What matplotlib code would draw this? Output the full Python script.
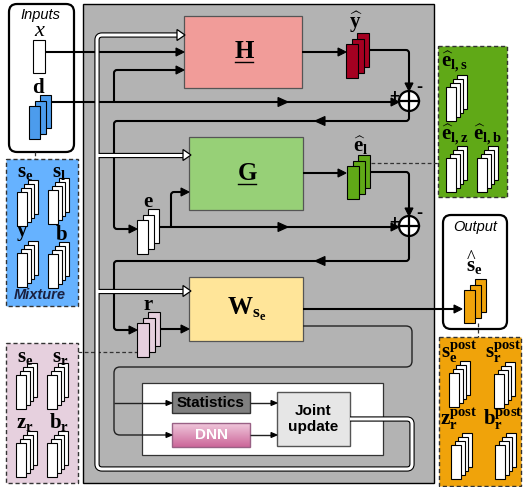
import numpy as np
import matplotlib
matplotlib.use('Agg')
import matplotlib.pyplot as plt
from matplotlib.patches import Rectangle, FancyBboxPatch, Circle, Polygon, PathPatch
from matplotlib.path import Path
from matplotlib.colors import LinearSegmentedColormap

plt.rcParams['mathtext.fontset'] = 'custom'
plt.rcParams['mathtext.rm'] = 'Liberation Serif'
plt.rcParams['mathtext.bf'] = 'Liberation Serif:bold'
plt.rcParams['mathtext.it'] = 'Liberation Serif:italic'
plt.rcParams['font.family'] = ['Liberation Sans', 'DejaVu Sans']

# main processing blocks: label, (left, top, right, bottom), colour
blocks = [
    (r'$\mathbf{H}$', (184, 16, 302, 88), '#f19c99'),
    (r'$\mathbf{G}$', (189, 137, 303, 210), '#97d077'),
    (r'$\mathbf{W}_{\mathbf{s}_\mathbf{e}}$', (189, 277, 303, 341), '#ffe599'),
]
underlined = [True, True, False]

# feature stacks in the main flow: label, front rect (x, y, w, h), colour, label pos
main_stacks = [
    (r'$\mathbf{d}$', (29, 106, 11, 33), '#4c9ced', (39, 93)),
    (r'$\widehat{\mathbf{y}}$', (346, 44, 12, 34), '#a50021', (356, 28)),
    (r'$\mathbf{e}$', (137, 220, 11, 34), '#ffffff', (148, 207)),
    (r'$\widehat{\mathbf{e}}_\mathbf{l}$', (347, 166, 12, 33), '#60a917', (361, 152)),
    (r'$\mathbf{r}$', (137, 323, 12, 34), '#e6d0de', (148, 310)),
    (r'$\widehat{\mathbf{s}}_\mathbf{e}$', (464, 290, 11, 33), '#f0a30a', (474, 272)),
]

# side legend boxes: (left, top, right, bottom), colour, [(label, label pos, ha, stack front)]
side_boxes = [
    ((6, 159, 78, 306), '#66b2ff', [
        (r'$\mathbf{s}_\mathbf{e}$', (25, 177), 'center', (17, 192)),
        (r'$\mathbf{s}_\mathbf{l}$', (59, 177), 'center', (48, 190)),
        (r'$\mathbf{y}$', (22, 236), 'center', (17, 253)),
        (r'$\mathbf{b}$', (61, 240), 'center', (48, 254)),
    ]),
    ((438, 46, 507, 197), '#60a917', [
        (r'$\widehat{\mathbf{e}}_{\mathbf{l,s}}$', (441, 67), 'left', (446, 87)),
        (r'$\widehat{\mathbf{e}}_{\mathbf{l,z}}$', (441, 140), 'left', (446, 158)),
        (r'$\widehat{\mathbf{e}}_{\mathbf{l,b}}$', (473, 140), 'left', (477, 158)),
    ]),
    ((6, 343, 78, 483), '#e6d0de', [
        (r'$\mathbf{s}_\mathbf{e}$', (25, 362), 'center', (16, 375)),
        (r'$\mathbf{s}_\mathbf{r}$', (60, 362), 'center', (47, 375)),
        (r'$\mathbf{z}_\mathbf{r}$', (25, 428), 'center', (16, 443)),
        (r'$\mathbf{b}_\mathbf{r}$', (59, 428), 'center', (47, 443)),
    ]),
    ((439, 337, 521, 486), '#f0a30a', [
        (r'$\mathbf{s}_\mathbf{e}^\mathbf{post}$', (441, 358), 'left', (449, 373)),
        (r'$\mathbf{s}_\mathbf{r}^\mathbf{post}$', (485, 358), 'left', (494, 374)),
        (r'$\mathbf{z}_\mathbf{r}^\mathbf{post}$', (440, 425), 'left', (451, 445)),
        (r'$\mathbf{b}_\mathbf{r}^\mathbf{post}$', (483, 425), 'left', (495, 445)),
    ]),
]

sum_nodes = [(409, 101), (409, 226)]

fig = plt.figure(figsize=(5.23, 4.87), dpi=100)
ax = fig.add_axes([0, 0, 1, 1])
ax.set_xlim(0, 523)
ax.set_ylim(487, 0)
ax.axis('off')


def box(l, t, r, b, fc, ec='k', lw=1.0, z=1, ls='-'):
    ax.add_patch(Rectangle((l, t), r - l, b - t, fc=fc, ec=ec, lw=lw, zorder=z, ls=ls))


def rbox(l, t, r, b, fc='white', ec='k', lw=1.6, rad=8, z=1):
    ax.add_patch(FancyBboxPatch((l, t), r - l, b - t, boxstyle=f'round,pad=0,rounding_size={rad}',
                                fc=fc, ec=ec, lw=lw, zorder=z))


def stack(x, y, w, h, fc, n=3, dx=5.5, dy=-5.5, lw=0.8):
    for i in reversed(range(n)):
        ax.add_patch(Rectangle((x + i * dx, y + i * dy), w, h, fc=fc, ec='k', lw=lw, zorder=6))


def head(x, y, d, L=8, W=8, fc='k', ec='k', z=7, lw=0.8):
    if d == 'r':
        pts = [(x, y), (x - L, y - W / 2), (x - L, y + W / 2)]
    elif d == 'l':
        pts = [(x, y), (x + L, y - W / 2), (x + L, y + W / 2)]
    elif d == 'd':
        pts = [(x, y), (x - W / 2, y - L), (x + W / 2, y - L)]
    else:
        pts = [(x, y), (x - W / 2, y + L), (x + W / 2, y + L)]
    ax.add_patch(Polygon(pts, closed=True, fc=fc, ec=ec, lw=lw, zorder=z))


def line(pts, r=3, lw=1.5, color='k', z=4):
    verts = [pts[0]]
    codes = [Path.MOVETO]
    for i in range(1, len(pts) - 1):
        p0, p1, p2 = (np.array(pts[i - 1], float), np.array(pts[i], float),
                      np.array(pts[i + 1], float))
        a = p1 + (p0 - p1) / np.linalg.norm(p0 - p1) * r
        b = p1 + (p2 - p1) / np.linalg.norm(p2 - p1) * r
        verts += [tuple(a), tuple(p1), tuple(b)]
        codes += [Path.LINETO, Path.CURVE3, Path.CURVE3]
    verts.append(pts[-1])
    codes.append(Path.LINETO)
    ax.add_patch(PathPatch(Path(verts, codes), fill=False, ec=color, lw=lw, zorder=z,
                           capstyle='butt', joinstyle='round'))


# grey processing area
box(83, 4, 434, 483, '#b3b3b3', lw=1.0, z=0)

# blocks
for (lab, (l, t, r, b), c), ul in zip(blocks, underlined):
    box(l, t, r, b, c, ec='#555555', lw=0.9, z=2)
    cx, cy = (l + r) / 2 + 1, (t + b) / 2
    ax.text(cx, cy + 6, lab, fontsize=18, ha='center', va='baseline', zorder=8)
    if ul:
        ax.plot([cx - 9, cx + 9], [cy + 10, cy + 10], color='k', lw=1.0, zorder=8)

# statistics / dnn / joint update
box(142, 383, 383, 455, 'white', ec='#333333', lw=0.9, z=2)
box(172, 392, 250, 413, '#808080', ec='#333333', lw=1.0, z=3)
ax.text(211, 403, 'Statistics', fontsize=11, fontweight='bold', ha='center', va='center', zorder=8)
grad = np.linspace(0, 1, 50).reshape(-1, 1)
cmap = LinearSegmentedColormap.from_list('pk', ['#f0c8dc', '#cc6699'])
ax.imshow(grad, extent=(172, 250, 447, 423), cmap=cmap, aspect='auto', zorder=3)
box(172, 423, 250, 447, 'none', ec='#996185', lw=1.0, z=3)
ax.text(211, 435, 'DNN', fontsize=11, fontweight='bold', color='white', ha='center', va='center', zorder=8)
box(277, 392, 350, 446, '#e6e6e6', ec='#555555', lw=1.0, z=3)
ax.text(313, 419, 'Joint\nupdate', fontsize=11, fontweight='bold', ha='center', va='center',
        linespacing=1.25, zorder=8)

# input / output frames
rbox(9, 4, 74, 152)
ax.text(40, 19, 'Inputs', fontsize=10.5, style='italic', ha='center', va='baseline')
box(33, 40, 45, 73, 'white', ec='k', lw=0.8, z=6)
ax.text(40, 36, r'$x$', fontsize=16, ha='center', va='baseline')
rbox(443, 215, 507, 329)
ax.text(475, 231, 'Output', fontsize=10.5, style='italic', ha='center', va='baseline')

# side legend boxes
for (l, t, r, b), c, items in side_boxes:
    box(l, t, r, b, c, ec='#333333', lw=1.0, z=1, ls=(0, (3, 2)))
    for lab, (tx, ty), ha, (sx, sy) in items:
        ax.text(tx, ty, lab, fontsize=15, ha=ha, va='baseline', zorder=8)
        stack(sx, sy, 10, 34, 'white', n=4, dx=3.5, dy=-4)
ax.text(40, 299, 'Mixture', fontsize=10.5, fontweight='bold', style='italic', color='#1a2040',
        ha='center', va='baseline')

# main stacks
for lab, (x, y, w, h), c, (tx, ty) in main_stacks:
    stack(x, y, w, h, c)
    ax.text(tx, ty, lab, fontsize=15, ha='center', va='baseline', zorder=8)

# dashed links
for xs, ys in [([35, 35], [152, 159]), ([371, 438], [163, 163]),
               ([78, 137], [352, 352]), ([478, 478], [323, 337])]:
    ax.plot(xs, ys, color='#333333', lw=0.9, ls=(0, (3, 2)), zorder=3)

# summation nodes
for cx, cy in sum_nodes:
    ax.add_patch(Circle((cx, cy), 10, fc='white', ec='k', lw=1.6, zorder=6))
    ax.plot([cx - 10, cx + 10], [cy, cy], color='k', lw=1.6, zorder=7)
    ax.plot([cx, cx], [cy - 10, cy + 10], color='k', lw=1.6, zorder=7)
    ax.text(cx - 15, cy - 4, '+', fontsize=12, fontweight='bold', ha='center', va='center', zorder=8)
    ax.text(cx + 10, cy - 13, '-', fontsize=13, fontweight='bold', ha='center', va='center', zorder=8)

# black signal lines
line([(45, 52), (180, 52)]); head(184, 52, 'r')
line([(51, 102), (396, 102)]); head(399, 102, 'r'); head(288, 102, 'r', L=10, W=9)
line([(114, 102), (114, 70), (180, 70)]); head(184, 70, 'r')
line([(302, 52), (342, 52)]); head(346, 52, 'r')
line([(370, 50), (409, 50), (409, 88)]); head(409, 91, 'd')
line([(409, 111), (409, 121), (114, 121), (114, 229), (133, 229)]); head(137, 229, 'r')
head(315, 121, 'l', L=10, W=9)
line([(159, 227), (396, 227)]); head(399, 227, 'r'); head(288, 227, 'r', L=10, W=9)
line([(171, 227), (171, 192), (185, 192)]); head(189, 192, 'r')
line([(303, 173), (342, 173)]); head(346, 173, 'r')
line([(371, 172), (409, 172), (409, 213)]); head(409, 216, 'd')
line([(409, 236), (409, 261), (114, 261), (114, 330), (133, 330)]); head(137, 330, 'r')
head(315, 261, 'l', L=10, W=9)
line([(160, 329), (185, 329)]); head(189, 329, 'r')
line([(303, 309), (458, 309)]); head(462, 309, 'r')

# thin feedback loop to statistics / dnn
line([(303, 326), (412, 326), (412, 367), (114, 367), (114, 435), (168, 435)], r=6, lw=1.0,
     color='#222222')
line([(114, 403), (168, 403)], lw=1.0, color='#222222')
head(172, 403, 'r', L=6, W=5); head(172, 435, 'r', L=6, W=5)
line([(250, 403), (273, 403)], lw=1.0, color='#222222'); head(277, 403, 'r', L=6, W=5)
line([(250, 435), (273, 435)], lw=1.0, color='#222222'); head(277, 435, 'r', L=6, W=5)

# white update path
wpath = [[(350, 419), (412, 419), (412, 469), (97, 469), (97, 35), (177, 35)],
         [(97, 155), (183, 155)], [(97, 291), (183, 291)]]
for p in wpath:
    line(p, r=5, lw=3.8, color='k', z=4)
for p in wpath:
    line(p, r=5, lw=2.2, color='white', z=4.5)
for x, y in [(185, 35), (191, 155), (191, 291)]:
    head(x, y, 'r', L=8, W=11, fc='white', ec='k', lw=0.9, z=5)

ax.set_xlim(0, 523)
ax.set_ylim(487, 0)
fig.savefig('out.png', dpi=100)
